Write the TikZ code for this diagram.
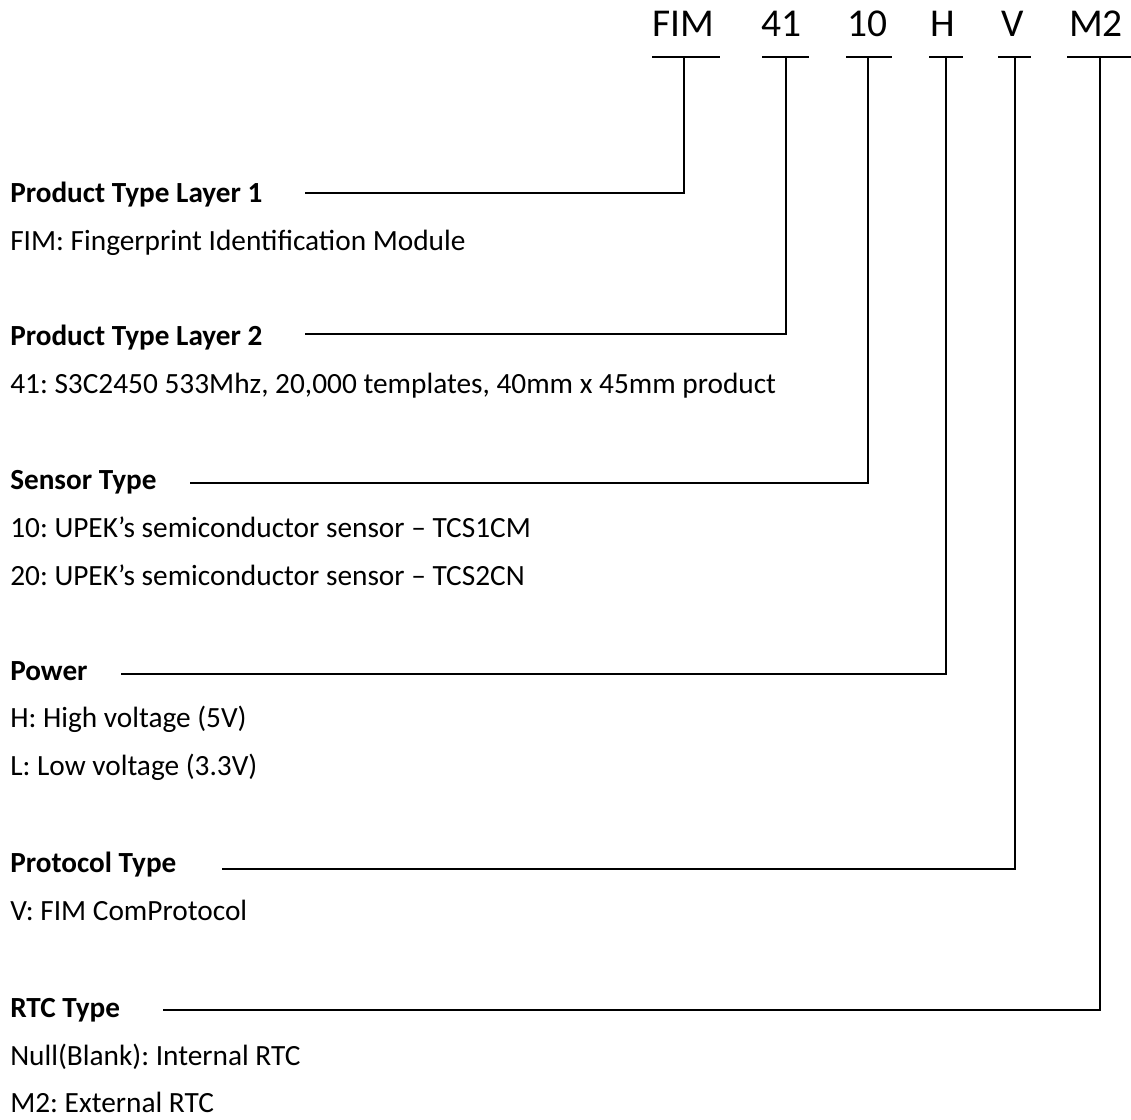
\documentclass[tikz,border=0pt]{standalone}
\usepackage{fontspec}
\setmainfont{Carlito}
\frenchspacing
\tikzset{
  head/.style={anchor=base, inner sep=0pt, font=\fontsize{29.6}{34}\selectfont},
  title/.style={anchor=base west, inner sep=0pt, font=\fontsize{21.9}{25}\selectfont\bfseries},
  desc/.style={anchor=base west, inner sep=0pt, font=\fontsize{22}{25}\selectfont},
  wire/.style={line width=1.5pt, line join=miter},
}
\begin{document}
\begin{tikzpicture}[x=0.75pt, y=-0.75pt]
    \useasboundingbox (0,0) rectangle (1131,1120);
    % code letters on top
    \node[head] (hFIM) at (683,37) {FIM};
    \node[head] (h41) at (781,37) {41};
    \node[head] (h10) at (867,37) {10};
    \node[head] (hH) at (943,37) {H};
    \node[head] (hV) at (1013,37) {V};
    \node[head] (hM2) at (1096,37) {M2};
    \coordinate (bFIM) at (684,57);
    \coordinate (b41) at (786,57);
    \coordinate (b10) at (868,57);
    \coordinate (bH) at (946,57);
    \coordinate (bV) at (1015,57);
    \coordinate (bM2) at (1100,57);
    \draw[wire] (652,57) -- (720,57);
    \draw[wire] (762,57) -- (809,57);
    \draw[wire] (846,57) -- (892,57);
    \draw[wire] (929,57) -- (963,57);
    \draw[wire] (998,57) -- (1031,57);
    \draw[wire] (1067,57) -- (1131,57);
    % field titles and meanings
    \node[title] (tLay1) at (10,202) {Product Type Layer 1};
    \node[desc] at (10,250) {FIM: Fingerprint Identification Module};
    \node[title] (tLay2) at (10,345) {Product Type Layer 2};
    \node[desc] at (10,393) {41: S3C2450 533Mhz, 20,000 templates, 40mm x 45mm product};
    \node[title] (tSens) at (10,489) {Sensor Type};
    \node[desc] at (10,537) {10: UPEK’s semiconductor sensor – TCS1CM};
    \node[desc] at (10,585) {20: UPEK’s semiconductor sensor – TCS2CN};
    \node[title] (tPow) at (10,680) {Power};
    \node[desc] at (10,727) {H: High voltage (5V)};
    \node[desc] at (10,775) {L: Low voltage (3.3V)};
    \node[title] (tProt) at (10,872) {Protocol Type};
    \node[desc] at (10,920) {V: FIM ComProtocol};
    \node[title] (tRTC) at (10,1017) {RTC Type};
    \node[desc] at (10,1065) {Null(Blank): Internal RTC};
    \node[desc] at (10,1112) {M2: External RTC};
    % leaders
    \coordinate (lLay1) at (305,193);
    \coordinate (lLay2) at (305,334);
    \coordinate (lSens) at (190,483);
    \coordinate (lPow) at (121,674);
    \coordinate (lProt) at (222,869);
    \coordinate (lRTC) at (163,1010);
    \draw[wire] (lLay1) -| (bFIM);
    \draw[wire] (lLay2) -| (b41);
    \draw[wire] (lSens) -| (b10);
    \draw[wire] (lPow) -| (bH);
    \draw[wire] (lProt) -| (bV);
    \draw[wire] (lRTC) -| (bM2);
\end{tikzpicture}
\end{document}
